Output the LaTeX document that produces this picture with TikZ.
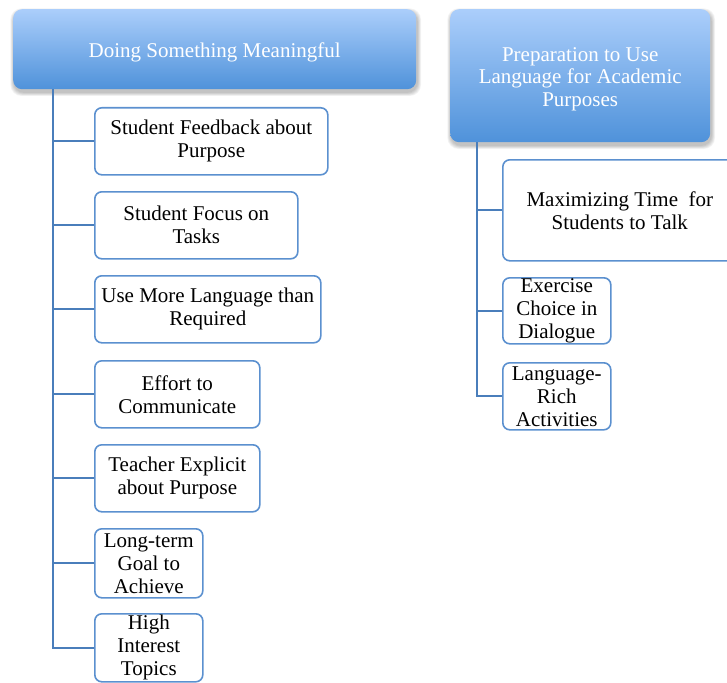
\documentclass[tikz,border=0pt]{standalone}
\usepackage{fontspec}
\setmainfont{Liberation Serif}
\usetikzlibrary{backgrounds}
\definecolor{hdtop}{HTML}{ABCEFB}
\definecolor{hdbot}{HTML}{4F92DA}
\definecolor{linkc}{HTML}{4A7EBB}
\definecolor{boxc}{HTML}{5B90CF}
\newcommand{\hdlift}{\rule{0pt}{20.5pt}}
\tikzset{
  header/.style={rounded corners=9pt, top color=hdtop, bottom color=hdbot,
    draw=none, text=white, align=center, anchor=north west, inner sep=0pt,
    font=\fontsize{21}{22.5}\selectfont},
  leaf/.style={draw=boxc, line width=1.6pt, rounded corners=7pt, fill=white,
    align=center, anchor=north west, inner sep=0pt,
    font=\fontsize{21}{23}\selectfont},
  link/.style={draw=linkc, line width=2pt},
  hshadow/.style={fill=black, opacity=0.045, rounded corners=11pt}
}
\begin{document}
\begin{tikzpicture}[x=1pt,y=-1pt]
\useasboundingbox (0,0) rectangle (727,682);

% group headers
\node[header, minimum width=403pt, minimum height=80pt] (h1) at (13,9)
  {\hdlift Doing Something Meaningful};
\node[header, minimum width=260pt, minimum height=133pt] (h2) at (450,9)
  {\hdlift Preparation to Use\\Language for Academic\\Purposes};

% soft shadows under the headers
\begin{scope}[on background layer]
  \foreach \h in {h1,h2}{
    \foreach \s in {1,...,6}{
      \fill[hshadow] ([shift={(-\s*0.6pt+1pt,\s*0.6pt-3pt)}]\h.north west)
        rectangle ([shift={(\s*0.6pt+1pt,-\s*0.6pt-3pt)}]\h.south east);
    }
  }
\end{scope}

% items under the first header
\node[leaf, minimum width=233pt, minimum height=67pt] (l1) at (94,107)
  {Student Feedback about\\Purpose};
\node[leaf, minimum width=203pt, minimum height=67pt] (l2) at (94,191)
  {Student Focus on\\Tasks};
\node[leaf, minimum width=226pt, minimum height=67pt] (l3) at (94,275)
  {Use More Language than\\Required};
\node[leaf, minimum width=165pt, minimum height=67pt] (l4) at (94,360)
  {Effort to\\Communicate};
\node[leaf, minimum width=165pt, minimum height=67pt] (l5) at (94,444)
  {Teacher Explicit\\about Purpose};
\node[leaf, minimum width=108pt, minimum height=69pt] (l6) at (94,528)
  {Long-term\\Goal to\\Achieve};
\node[leaf, minimum width=108pt, minimum height=68pt] (l7) at (94,613)
  {High\\Interest\\Topics};

% items under the second header
\node[leaf, minimum width=234pt, minimum height=101pt] (r1) at (502,159)
  {Maximizing Time\ \ for\\Students to Talk};
\node[leaf, minimum width=108pt, minimum height=66pt] (r2) at (502,277)
  {Exercise\\Choice in\\Dialogue};
\node[leaf, minimum width=108pt, minimum height=67pt] (r3) at (502,362)
  {Language-\\Rich\\Activities};

% trunks and branches
\coordinate (t1) at ([xshift=40pt]h1.south west);
\coordinate (t2) at ([xshift=27pt]h2.south west);
\draw[link] (t1) |- (l7.west);
\foreach \n in {l1,l2,l3,l4,l5,l6}
  \draw[link] (t1 |- \n.west) -- (\n.west);
\draw[link] (t2) |- (r3.west);
\foreach \n in {r1,r2}
  \draw[link] (t2 |- \n.west) -- (\n.west);
\end{tikzpicture}
\end{document}
